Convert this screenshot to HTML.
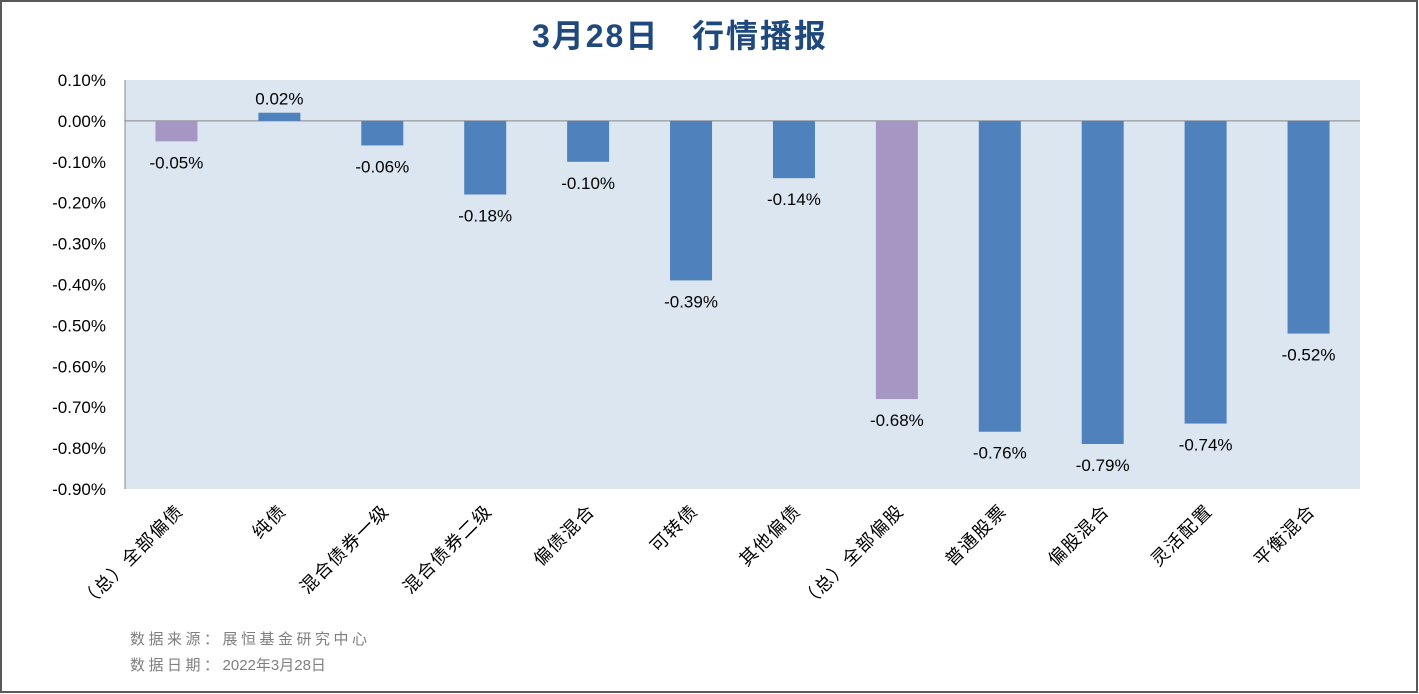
<!DOCTYPE html>
<html><head><meta charset="utf-8"><style>
body{margin:0;background:#fff}
svg{display:block;font-family:"Liberation Sans","Noto Sans CJK SC",sans-serif}
</style></head><body>
<svg width="1419" height="694" viewBox="0 0 1419 694">
<rect x="1" y="1" width="1416" height="691" fill="#fff" stroke="#595959" stroke-width="2"/>
<text x="680" y="47" text-anchor="middle" font-size="32" font-weight="bold" fill="#1F497D" letter-spacing="2" xml:space="preserve">3月28日   行情播报</text>
<rect x="125" y="80" width="1235" height="409" fill="#DCE6F1"/>
<g id="yticks"></g>
<g id="bars"></g>
<g id="xlabels"></g>
<line x1="125" y1="80" x2="125" y2="489" stroke="#868686"/>
<text x="130" y="644" font-size="15" fill="#7f7f7f" letter-spacing="3.5">数据来源：展恒基金研究中心</text>
<text x="130" y="670" font-size="15" fill="#7f7f7f"><tspan letter-spacing="3.5">数据日期：</tspan><tspan letter-spacing="0">2022年3月28日</tspan></text>
</svg>
<script>
const categories=["（总）全部偏债","纯债","混合债券一级","混合债券二级","偏债混合","可转债","其他偏债","（总）全部偏股","普通股票","偏股混合","灵活配置","平衡混合"];
const values=[-0.05,0.02,-0.06,-0.18,-0.10,-0.39,-0.14,-0.68,-0.76,-0.79,-0.74,-0.52];
const totals=[true,false,false,false,false,false,false,true,false,false,false,false];
const ticks=[0.10,0.00,-0.10,-0.20,-0.30,-0.40,-0.50,-0.60,-0.70,-0.80,-0.90];
const NS="http://www.w3.org/2000/svg";
const x0=125,x1=1360,yTop=80,yBot=489,vMax=0.10,vMin=-0.90;
const y=v=>yTop+(vMax-v)/(vMax-vMin)*(yBot-yTop);
const bw=(x1-x0)/categories.length;
const xc=i=>x0+bw*(i+0.5);
function mk(tag,attrs,parent){const e=document.createElementNS(NS,tag);for(const k in attrs)e.setAttribute(k,attrs[k]);parent.appendChild(e);return e;}
const gy=document.getElementById('yticks');
ticks.forEach(t=>{
 const tx=mk('text',{x:106,y:y(t)+6,'text-anchor':'end','font-size':17,fill:'#000'},gy);
 
 
 tx.textContent=t.toFixed(2)+'%';
});
const zl=mk('line',{x1:x0,x2:x1,y1:y(0),y2:y(0),stroke:'#868686'},gy);


const gb=document.getElementById('bars'),gl=document.getElementById('xlabels');
values.forEach((v,i)=>{
 const top=Math.min(y(v),y(0)),h=Math.abs(y(v)-y(0));
 const r=mk('rect',{x:xc(i)-21,y:top,width:42,height:h,fill:totals[i]?'#A696C4':'#4F81BD'},gb);
 
 
 const ly=v>=0?y(v)-8:y(v)+27;
 const t=mk('text',{x:xc(i),y:ly,'text-anchor':'middle','font-size':17,fill:'#000'},gb);
 
 
 t.textContent=v.toFixed(2)+'%';
 const lx=xc(i)+8,lyy=512;
 const c=mk('text',{x:lx,y:lyy,'text-anchor':'end','font-size':18,'letter-spacing':1.5,fill:'#000',transform:`rotate(-45 ${lx} ${lyy})`},gl);
 
 
 c.textContent=categories[i];
});
</script>
</body></html>
